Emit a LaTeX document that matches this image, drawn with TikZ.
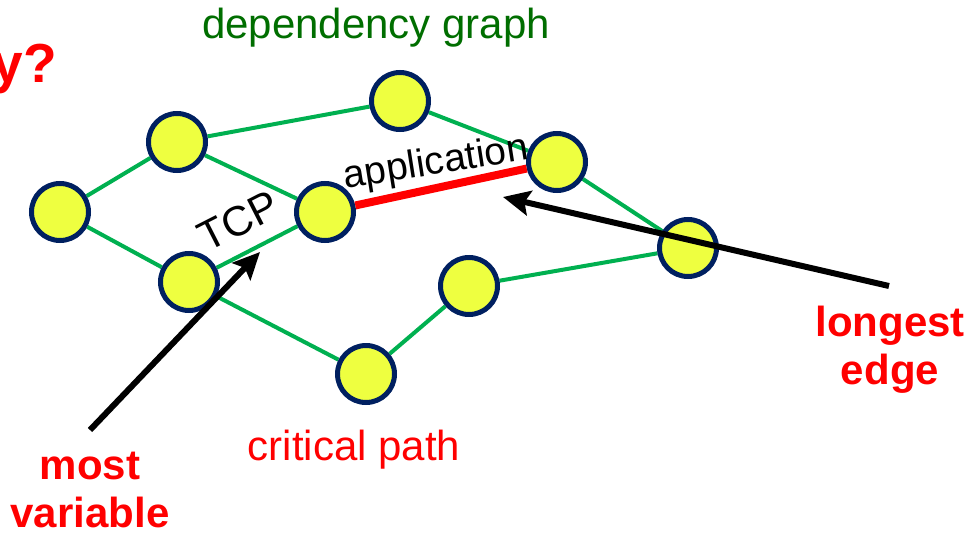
\documentclass[tikz,border=0pt]{standalone}
\usepackage{fontspec}
\setmainfont{Liberation Sans}
\usepackage{tikz}
\usetikzlibrary{positioning,backgrounds}
\usetikzlibrary{arrows.meta}
\definecolor{vfill}{RGB}{238,255,64}
\definecolor{vborder}{RGB}{0,32,96}
\definecolor{dep}{RGB}{0,176,80}
\definecolor{title}{RGB}{0,110,0}
\definecolor{accent}{RGB}{255,0,0}

\begin{document}
\begin{tikzpicture}[
  x = 1pt,
  y = -1pt,
  vertex/.style = {
    draw = vborder,
    circle,
    fill = vfill,
    line width = 5pt,
    minimum size = 57pt,
    inner sep = 0pt,
  },
  dedge/.style = {
    draw = dep,
    line width = 4pt,
  },
  ledge/.style = {
    draw = accent,
    line width = 8pt,
  },
  pointer/.style = {
    draw = black,
    line width = 6pt,
    -{Stealth[length=27pt,width=25pt,inset=5pt]},
  },
  big/.style = {
    font = \fontsize{42}{48}\selectfont,
    inner sep = 0pt,
  },
  callout/.style = {
    big,
    text = accent,
    font = \fontsize{42}{48}\selectfont\bfseries,
    align = center,
  },
]

  \useasboundingbox (0,0) rectangle (971,535);

  \node[vertex] (v0) at (60,212) {};
  \node[vertex] (v1) at (177,142) {};
  \node[vertex] (v2) at (400,101) {};
  \node[vertex] (v3) at (557,162) {};
  \node[vertex] (v4) at (325,212) {};
  \node[vertex] (v5) at (189,282) {};
  \node[vertex] (v6) at (469,286) {};
  \node[vertex] (v7) at (688,248) {};
  \node[vertex] (v8) at (366,374) {};

  \begin{scope}[on background layer]
    \path[dedge] (v0) edge (v1);
    \path[dedge] (v0) edge (v5);
    \path[dedge] (v1) edge (v2);
    \path[dedge] (v1) edge (v4);
    \path[dedge] (v2) edge (v3);
    \path[dedge] (v3) edge (v7);
    \path[dedge] (v5) edge (v4);
    \path[dedge] (v5) edge (v8);
    \path[dedge] (v8) edge (v6);
    \path[dedge] (v6) edge (v7);
  \end{scope}
  \path[ledge] (v4) edge (v3);

  \node[big,rotate=27] (tcp) at (238,221) {TCP};
  \node[big,rotate=9,font=\fontsize{39}{44}\selectfont] (app) at (436,164) {application};

  \node[big,text=title,anchor=base] (graph) at (376,38) {dependency graph};
  \node[big,text=accent,anchor=base] (path) at (354,460) {critical path};
  \node[callout,font=\fontsize{55}{60}\selectfont\bfseries,anchor=base east] (why) at (57,82) {y?};

  \node[callout] (longest) at (890,350) {longest\\edge};
  \node[callout] (variable) at (90,490) {most\\variable};

  \coordinate (lt) at (889,286);
  \coordinate (lh) at (503,197);
  \coordinate (vt) at (90,430);
  \coordinate (vh) at (260,252);
  \draw[pointer] (lt) -- (lh);
  \draw[pointer] (vt) -- (vh);

\end{tikzpicture}
\end{document}
